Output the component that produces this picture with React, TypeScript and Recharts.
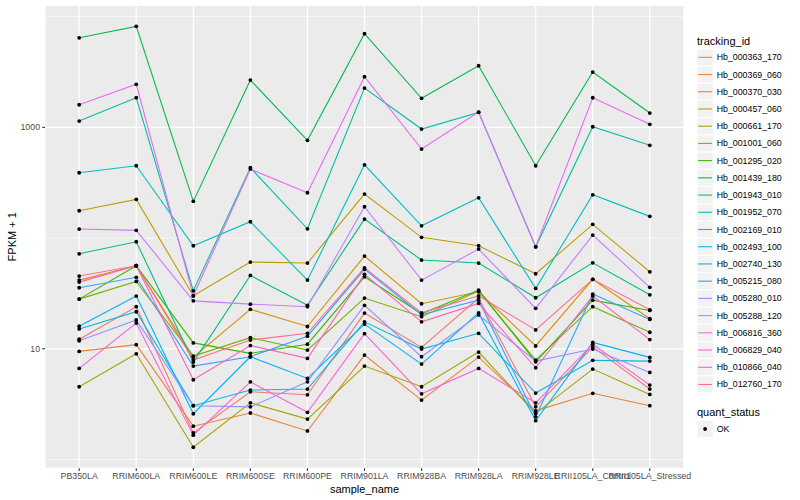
import { LineChart, Line, XAxis, YAxis, CartesianGrid } from 'recharts';

const samples = [
  'PB350LA', 'RRIM600LA', 'RRIM600LE', 'RRIM600SE', 'RRIM600PE', 'RRIM901LA',
  'RRIM928BA', 'RRIM928LA', 'RRIM928LE', 'RRII105LA_Control', 'RRII105LA_Stressed',
];

const trackingIds = [
  'Hb_000363_170', 'Hb_000369_060', 'Hb_000370_030', 'Hb_000457_060', 'Hb_000661_170',
  'Hb_001001_060', 'Hb_001295_020', 'Hb_001439_180', 'Hb_001943_010', 'Hb_001952_070',
  'Hb_002169_010', 'Hb_002493_100', 'Hb_002740_130', 'Hb_005215_080', 'Hb_005280_010',
  'Hb_005288_120', 'Hb_006816_360', 'Hb_006829_040', 'Hb_010866_040', 'Hb_012760_170',
];

// FPKM + 1, one value per sample
const hb000363_170 = [12.2, 24.0, 1.74, 4.09, 3.84, 21.0, 10.3, 28.7, 2.99, 10.4, 4.33];
const hb000369_060 = [9.47, 10.9, 2.0, 2.63, 1.81, 8.77, 3.44, 8.41, 2.75, 3.96, 3.06];
const hb000370_030 = [41.7, 56.2, 8.41, 22.7, 15.9, 68.8, 25.5, 32.7, 10.6, 42.4, 18.7];
const hb000457_060 = [176.5, 223.7, 30.1, 60.7, 59.5, 249.7, 101.5, 85.2, 47.6, 133, 49.6];
const hb000661_170 = [4.54, 9.01, 1.29, 3.25, 2.32, 6.98, 4.54, 9.34, 2.61, 6.56, 3.87];
const hb001001_060 = [28.1, 40.6, 8.59, 12.6, 9.73, 28.7, 19.5, 33.2, 7.91, 24.0, 14.1];
const hb001295_020 = [28.1, 56.2, 11.3, 9.09, 11.0, 44.7, 20.7, 33.9, 7.63, 27.5, 22.2];
const hb001439_180 = [6440, 8170, 214.5, 2673, 763, 7007, 1828, 3600, 450, 3158, 1346];
const hb001943_010 = [72.1, 92.6, 7.58, 46.0, 24.7, 148.4, 63.3, 59.5, 28.9, 59.8, 30.7];
const hb001952_070 = [1140, 1851, 33.4, 431.5, 121.3, 2265, 965, 1366, 83.4, 1012, 688];
const hb002169_010 = [389, 450, 85.2, 140.4, 41.7, 459, 129, 231, 35.1, 246, 157];
const hb002493_100 = [15.1, 21.6, 3.06, 4.24, 4.33, 17.5, 9.94, 13.8, 3.98, 7.86, 7.74];
const hb002740_130 = [16.0, 29.9, 2.59, 8.47, 5.4, 16.7, 7.27, 21.1, 2.24, 11.4, 8.36];
const hb005215_080 = [35.6, 44.2, 6.98, 8.47, 13.0, 52.2, 20.3, 27.5, 2.43, 31.2, 18.4];
const hb005280_010 = [11.8, 18.2, 3.06, 2.99, 5.03, 24.7, 8.47, 20.2, 7.74, 9.94, 6.12];
const hb005288_120 = [120.6, 117.4, 27.1, 25.3, 24.0, 191.7, 41.7, 79.5, 23.2, 106.4, 35.9];
const hb006816_360 = [1600, 2446, 30.1, 420, 256.6, 2865, 637, 1375, 83.4, 1851, 1064];
const hb006829_040 = [6.65, 17.1, 1.66, 5.03, 2.67, 13.7, 3.92, 6.65, 3.25, 11.0, 4.7];
const hb010866_040 = [40.0, 56.2, 5.25, 10.7, 8.19, 47.0, 17.5, 25.7, 6.74, 29.9, 12.1];
const hb012760_170 = [45.4, 56.2, 7.91, 12.0, 13.8, 53.9, 21.1, 30.1, 14.8, 42.4, 22.5];

const seriesValues = [
  hb000363_170, hb000369_060, hb000370_030, hb000457_060, hb000661_170,
  hb001001_060, hb001295_020, hb001439_180, hb001943_010, hb001952_070,
  hb002169_010, hb002493_100, hb002740_130, hb005215_080, hb005280_010,
  hb005288_120, hb006816_360, hb006829_040, hb010866_040, hb012760_170,
];

const colors = [
  '#F8766D', '#EA8331', '#D89000', '#C09B00', '#A3A500', '#7CAE00', '#39B600',
  '#00BB4E', '#00BF7D', '#00C1A3', '#00BFC4', '#00BAE0', '#00B0F6', '#35A2FF',
  '#9590FF', '#C77CFF', '#E76BF3', '#FA62DB', '#FF62BC', '#FF6C91',
];

const data = samples.map((s, i) => {
  const row: Record<string, string | number> = { sample: s };
  trackingIds.forEach((id, k) => {
    row[id] = seriesValues[k][i];
  });
  return row;
});

// ggplot-like 5% expansion on the log10 scale
const logs = seriesValues.flat().map((v) => Math.log10(v));
const lo = Math.min(...logs);
const hi = Math.max(...logs);
const pad = (hi - lo) * 0.05;
const yDomain = [10 ** (lo - pad), 10 ** (hi + pad)];

const font = '"Liberation Sans", Arial, Helvetica, sans-serif';

export default function App() {
  return (
    <div style={{ position: 'absolute', left: 0, top: 0, width: 800, height: 500, background: '#fff', fontFamily: font }}>
      <LineChart width={800} height={500} data={data} margin={{ top: 5.3, right: 116, bottom: 0, left: 0 }}>
        <CartesianGrid fill="#EBEBEB" fillOpacity={1} stroke="#FFFFFF" strokeWidth={1.2} />
        <CartesianGrid yAxisId="minor" vertical={false} stroke="#FFFFFF" strokeWidth={0.6} />
        <XAxis
          dataKey="sample"
          interval={0}
          padding={{ left: 34.2, right: 34.2 }}
          height={31.7}
          axisLine={false}
          tickSize={2.75}
          tickMargin={2.2}
          tickLine={{ stroke: '#333333', strokeWidth: 1.1 }}
          tick={{ fill: '#4D4D4D', fontSize: 8.8, fontFamily: font }}
        />
        <YAxis
          scale="log"
          type="number"
          domain={yDomain}
          allowDataOverflow
          ticks={[10, 1000]}
          width={45}
          axisLine={false}
          tickSize={2.75}
          tickMargin={2.2}
          tickLine={{ stroke: '#333333', strokeWidth: 1.1 }}
          tick={{ fill: '#4D4D4D', fontSize: 8.8, fontFamily: font }}
        />
        <YAxis yAxisId="minor" hide scale="log" type="number" domain={yDomain} allowDataOverflow ticks={[1, 100, 10000]} />
        {trackingIds.map((id, k) => (
          <Line
            key={id}
            type="linear"
            dataKey={id}
            stroke={colors[k]}
            strokeWidth={1.1}
            dot={false}
            activeDot={false}
            isAnimationActive={false}
          />
        ))}
        {trackingIds.map((id) => (
          <Line
            key={id + '-pt'}
            type="linear"
            dataKey={id}
            stroke="none"
            dot={{ r: 1.9, fill: '#000', stroke: 'none' }}
            activeDot={false}
            legendType="none"
            isAnimationActive={false}
          />
        ))}
      </LineChart>
      <svg width={800} height={500} style={{ position: 'absolute', left: 0, top: 0, pointerEvents: 'none' }}>
        <text x={12.5} y={236.8} fontSize={11} fill="#000" textAnchor="middle" dominantBaseline="central" transform="rotate(-90, 12.5, 236.8)">
          FPKM + 1
        </text>
        <text x={364.5} y={489} fontSize={11} fill="#000" textAnchor="middle" dominantBaseline="central">
          sample_name
        </text>
        <text x={697} y={40.7} fontSize={11} fill="#000" dominantBaseline="central">
          tracking_id
        </text>
        {trackingIds.map((id, k) => {
          const cy = 57.3 + k * 17.22;
          return (
            <g key={id}>
              <rect x={697.3} y={cy - 8} width={15.6} height={16} fill="#F2F2F2" />
              <line x1={698.2} x2={711.9} y1={cy} y2={cy} stroke={colors[k]} strokeWidth={1.1} />
              <text x={716.7} y={cy} fontSize={8.8} fill="#000" dominantBaseline="central">
                {id}
              </text>
            </g>
          );
        })}
        <text x={697} y={412.3} fontSize={11} fill="#000" dominantBaseline="central">
          quant_status
        </text>
        <rect x={697.3} y={421} width={15.6} height={16} fill="#F2F2F2" />
        <circle cx={705.1} cy={429} r={1.9} fill="#000" />
        <text x={716.7} y={429} fontSize={8.8} fill="#000" dominantBaseline="central">
          OK
        </text>
      </svg>
    </div>
  );
}
